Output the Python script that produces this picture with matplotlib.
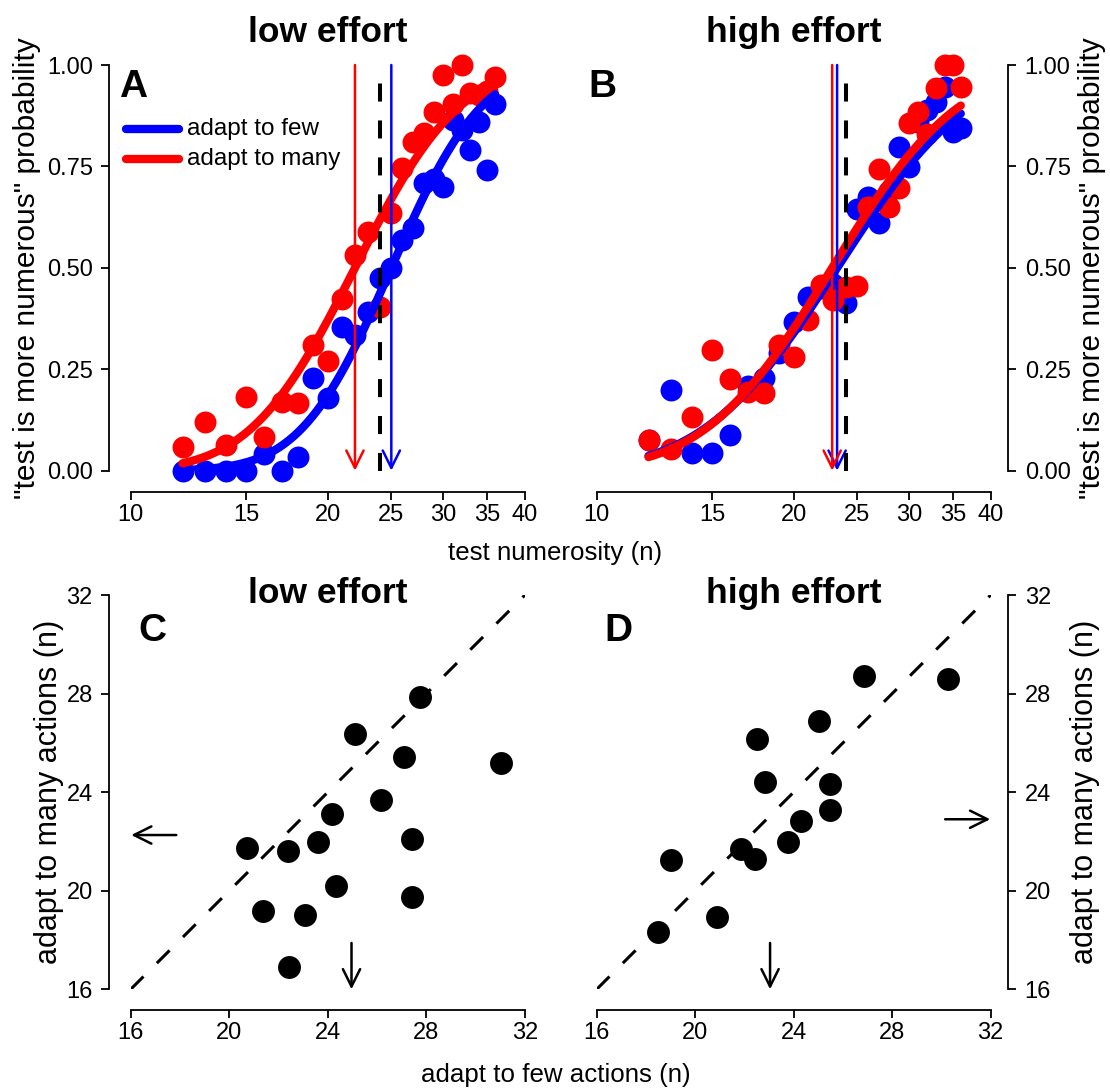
import math
import numpy as np
import matplotlib
matplotlib.use("Agg")
import matplotlib.pyplot as plt

plt.rcParams['font.family'] = ['Liberation Sans', 'DejaVu Sans']
plt.rcParams['lines.scale_dashes'] = False

# ---------------- data ----------------
test_n = [12, 13, 14, 15, 16, 17, 18, 19, 20, 21, 22, 23, 24,
          25, 26, 27, 28, 29, 30, 31, 32, 33, 34, 35, 36]

A_few = [0.00, 0.00, 0.00, 0.00, 0.04, 0.00, 0.035, 0.228, 0.178, 0.355, 0.334, 0.392, 0.474,
         0.499, 0.569, 0.597, 0.708, 0.72, 0.70, 0.864, 0.84, 0.79, 0.86, 0.74, 0.905]
A_many = [0.058, 0.119, 0.063, 0.182, 0.084, 0.17, 0.166, 0.31, 0.271, 0.422, 0.532, 0.589, 0.404,
          0.634, 0.745, 0.811, 0.832, 0.885, 0.975, 0.905, 1.00, 0.93, 0.925, 0.935, 0.97]
B_few = [0.076, 0.20, 0.044, 0.043, 0.088, 0.21, 0.228, 0.29, 0.367, 0.429, 0.45, 0.46, 0.413,
         0.645, 0.675, 0.61, 0.69, 0.797, 0.749, 0.86, 0.89, 0.91, 0.947, 0.834, 0.844]
B_many = [0.076, 0.053, 0.132, 0.297, 0.225, 0.195, 0.191, 0.31, 0.281, 0.371, 0.458, 0.421, 0.454,
          0.455, 0.65, 0.743, 0.651, 0.696, 0.858, 0.883, 0.83, 0.943, 1.00, 1.00, 0.945]

# psychometric fits: (PSE, sigma of log numerosity)
A_fit_few = (25.0, 0.25)
A_fit_many = (22.0, 0.29)
B_fit_few = (23.3, 0.37)
B_fit_many = (22.9, 0.353)
veridical = 24

C_few = [20.71, 22.40, 23.61, 24.17, 25.12, 26.14, 27.08, 27.72, 31.04, 27.41, 21.36, 23.07, 24.35, 27.42, 22.44]
C_many = [21.74, 21.62, 21.99, 23.10, 26.36, 23.68, 25.44, 27.87, 25.19, 22.10, 19.19, 19.01, 20.19, 19.76, 16.92]
D_few = [26.85, 30.26, 25.03, 22.51, 22.84, 25.46, 25.46, 24.29, 23.75, 21.88, 22.42, 19.00, 20.89, 18.50]
D_many = [28.71, 28.60, 26.90, 26.14, 24.40, 24.32, 23.27, 22.83, 21.96, 21.68, 21.29, 21.25, 18.95, 18.34]
C_arrows = (24.96, 22.26)   # (few, many)
D_arrows = (23.04, 22.90)

top_xticks = [10, 15, 20, 25, 30, 35, 40]
top_yticks = [0.0, 0.25, 0.5, 0.75, 1.0]
bot_ticks = [16, 20, 24, 28, 32]
legend_labels = ["adapt to few", "adapt to many"]

BLUE = "#0000ff"
RED = "#ff0000"

W, H = 1110, 1088
fig = plt.figure(figsize=(W / 100, H / 100), dpi=100)


def psych(x, pse, sig):
    return np.array([0.5 * (1 + math.erf(math.log(v / pse) / (sig * math.sqrt(2)))) for v in x])


def px_axes(l, r, t, b):
    return fig.add_axes([l / W, (H - b) / H, (r - l) / W, (b - t) / H])


TICK_FS = 17
ARROW = dict(arrowstyle='->,head_length=1.25,head_width=0.62', shrinkA=0, shrinkB=0)


def style(ax, side, xb, yb, out_side, out_bottom):
    for s in ('top', 'left', 'right', 'bottom'):
        ax.spines[s].set_visible(False)
    ax.spines['bottom'].set_visible(True)
    ax.spines['bottom'].set_position(('outward', out_bottom))
    ax.spines['bottom'].set_bounds(*xb)
    ax.spines[side].set_visible(True)
    ax.spines[side].set_position(('outward', out_side))
    ax.spines[side].set_bounds(*yb)
    for s in ax.spines.values():
        s.set_linewidth(1.3)
    if side == 'right':
        ax.yaxis.tick_right()
    ax.tick_params(length=5.5, width=1.3, labelsize=TICK_FS, direction='out')
    ax.tick_params(axis='y', pad=6.5)
    ax.tick_params(axis='x', pad=3.5)
    ax.minorticks_off()


def top_panel(ax, few, many, fit_few, fit_many, side, out_side):
    ax.set_xscale('log')
    ax.set_xlim(10, 40)
    ax.set_ylim(0, 1)
    ax.plot(test_n, few, 'o', color=BLUE, ms=15.8, mec='none', clip_on=False, zorder=3)
    ax.plot(test_n, many, 'o', color=RED, ms=15.8, mec='none', clip_on=False, zorder=3)
    xs = np.geomspace(test_n[0], test_n[-1], 200)
    ax.plot(xs, psych(xs, *fit_few), color=BLUE, lw=6, solid_capstyle='round', zorder=4)
    ax.plot(xs, psych(xs, *fit_many), color=RED, lw=6, solid_capstyle='round', zorder=5)
    for pse, c in ((fit_few[0], BLUE), (fit_many[0], RED)):
        ax.annotate('', xy=(pse, 0), xytext=(pse, 1),
                    arrowprops=dict(color=c, lw=1.8, **ARROW), zorder=6)
    ax.plot([veridical, veridical], [0, 1], color='k', lw=2.9, dashes=(13, 13.6), zorder=6)
    ax.set_xticks(top_xticks)
    ax.set_xticklabels([str(t) for t in top_xticks])
    ax.set_yticks(top_yticks)
    ax.set_yticklabels(["%.2f" % t for t in top_yticks])
    style(ax, side, (10, 40), (0, 1), out_side, 15.1)


def bottom_panel(ax, few, many, arrows, side, out_side):
    ax.set_xlim(16, 32)
    ax.set_ylim(16, 32)
    ax.plot([16, 32], [16, 32], color='k', lw=2.2, dashes=(13, 13.6), zorder=2)
    ax.plot(few, many, 'o', color='k', ms=16.5, mec='none', clip_on=False, zorder=3)
    few_a, many_a = arrows
    ax.annotate('', xy=(few_a, 16), xytext=(few_a, 17.88),
                arrowprops=dict(color='k', lw=1.8, **ARROW), zorder=6)
    if side == 'left':
        ax.annotate('', xy=(16.02, many_a), xytext=(17.85, many_a),
                    arrowprops=dict(color='k', lw=1.8, **ARROW), zorder=6)
    else:
        ax.annotate('', xy=(31.98, many_a), xytext=(30.15, many_a),
                    arrowprops=dict(color='k', lw=1.8, **ARROW), zorder=6)
    ax.set_xticks(bot_ticks)
    ax.set_yticks(bot_ticks)
    style(ax, side, (16, 32), (16, 32), out_side, 14.9)


axA = px_axes(130.7, 525.0, 65.0, 470.7)
axB = px_axes(596.7, 990.7, 65.0, 470.7)
axC = px_axes(130.7, 525.0, 595.0, 989.3)
axD = px_axes(596.7, 990.7, 595.0, 989.3)

top_panel(axA, A_few, A_many, A_fit_few, A_fit_many, 'left', 15.4)
top_panel(axB, B_few, B_many, B_fit_few, B_fit_many, 'right', 12.5)
bottom_panel(axC, C_few, C_many, C_arrows, 'left', 15.4)
bottom_panel(axD, D_few, D_many, D_arrows, 'right', 12.5)

# legend in panel A
for lab, c, yf in zip(legend_labels, (BLUE, RED), (0.8415, 0.7683)):
    axA.plot([-0.0127, 0.1232], [yf, yf], color=c, lw=6, solid_capstyle='round',
             transform=axA.transAxes, clip_on=False, zorder=7)
    axA.text(0.142, yf, lab, transform=axA.transAxes, fontsize=17.5, va='center', ha='left', zorder=7)


def ftext(x, y, s, **kw):
    fig.text(x / W, 1 - y / H, s, **kw)


# titles
ftext(327.9, 42, "low effort", fontsize=25.5, fontweight='bold', ha='center', va='baseline')
ftext(793.7, 42, "high effort", fontsize=25.5, fontweight='bold', ha='center', va='baseline')
ftext(327.9, 603, "low effort", fontsize=25.5, fontweight='bold', ha='center', va='baseline')
ftext(793.7, 603, "high effort", fontsize=25.5, fontweight='bold', ha='center', va='baseline')

# panel letters
for (x, y, s) in ((119, 97, "A"), (588, 97, "B"), (138, 641, "C"), (604, 641, "D")):
    ftext(x, y, s, fontsize=28, fontweight='bold', ha='left', va='baseline')

# axis labels
ylab_top = '"test is more numerous" probability'
ylab_bot = 'adapt to many actions (n)'
ftext(555, 553, "test numerosity (n)", fontsize=18.6, ha='center', va='center')
ftext(556, 1075, "adapt to few actions (n)", fontsize=18.6, ha='center', va='center')
ftext(27, 268, ylab_top, fontsize=21.5, rotation=90, ha='center', va='center')
ftext(1092, 268, ylab_top, fontsize=21.5, rotation=90, ha='center', va='center')
ftext(49, 792, ylab_bot, fontsize=22, rotation=90, ha='center', va='center')
ftext(1085, 792, ylab_bot, fontsize=22, rotation=90, ha='center', va='center')

fig.savefig("out.png", dpi=100)
